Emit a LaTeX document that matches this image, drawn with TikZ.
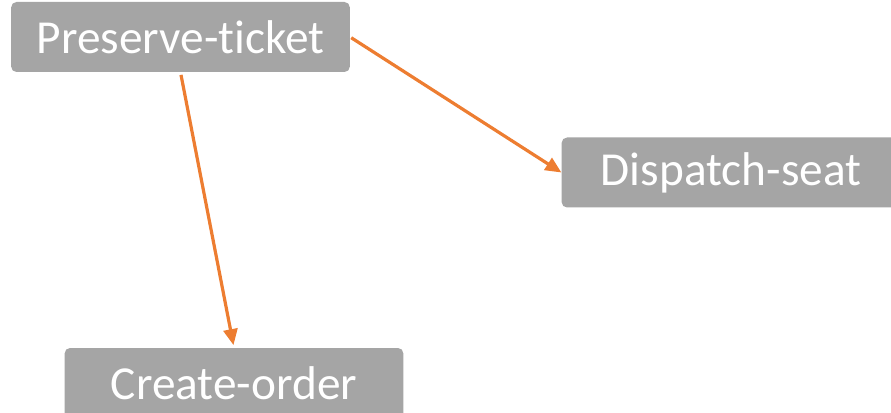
\documentclass[tikz,border=0pt]{standalone}
\usepackage{fontspec}
\setmainfont[Ligatures=NoCommon]{Carlito}
\usetikzlibrary{arrows.meta}
\definecolor{boxgray}{HTML}{A5A5A5}
\definecolor{linkorange}{HTML}{ED7D31}
\begin{document}
\begin{tikzpicture}[x=0.75pt,y=-0.75pt]
	\tikzset{task/.style = {fill=boxgray, rounded corners=4pt, text=white, inner sep=0pt,
			minimum width=254pt, minimum height=52.5pt, font=\fontsize{35.5}{40}\selectfont}}
	\tikzset{link/.style = {linkorange, line width=2.4pt, -{Triangle[length=12pt,width=10.5pt]}}}
	\useasboundingbox (0,0) rectangle (891,413);
	% the three steps
	\node[task] (preserve) at (180.5,37) {Preserve-ticket};
	\node[task] (dispatch) at (731,172.5) {Dispatch-seat};
	\node[task] (create) at (234,383) {Create-order};
	% links between them
	\draw[link, shorten <=1pt] (preserve.east) to (dispatch.west);
	\draw[link, shorten <=2pt, shorten >=2pt] (preserve.south) to (create.north);
\end{tikzpicture}
\end{document}
